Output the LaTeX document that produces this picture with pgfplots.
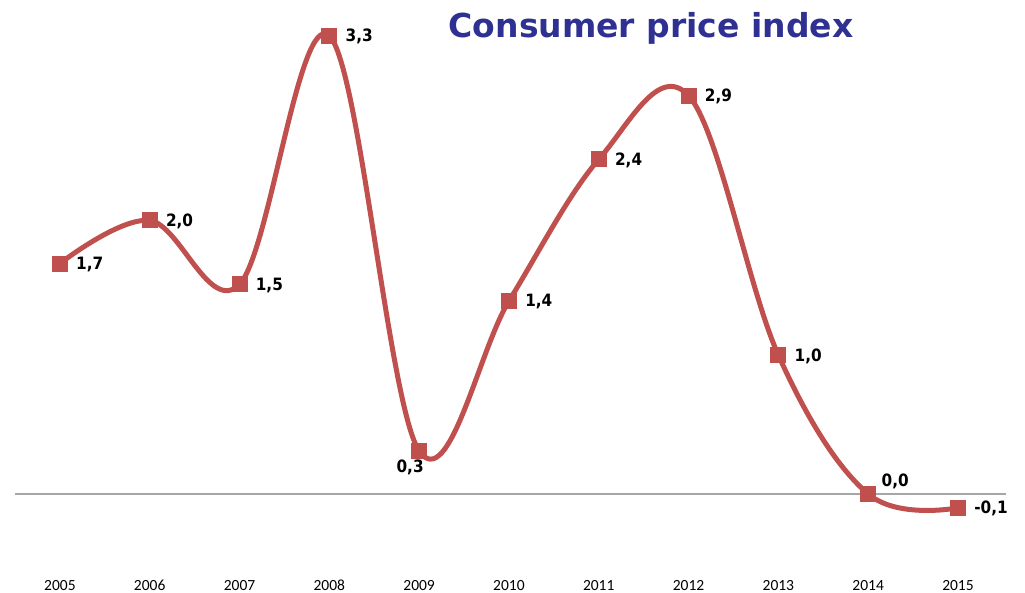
\documentclass[border=0pt]{standalone}
\usepackage{pgfplots}
\pgfplotsset{compat=1.18}
\usepackage{pgfplotstable}
\usepackage{fontspec}
\setmainfont{DejaVu Sans}
\newfontfamily\labfont{DejaVu Sans Condensed}
\newfontfamily\yearfont{Carlito}
\definecolor{cpired}{HTML}{C0504D}
\definecolor{titleblue}{HTML}{2E3192}
\definecolor{zeroline}{HTML}{A6A6A6}

\pgfplotstableread{
x y lab
2005 1.66 {1,7}
2006 1.97 {2,0}
2007 1.51 {1,5}
2008 3.30 {3,3}
2009 0.31 {0,3}
2010 1.39 {1,4}
2011 2.41 {2,4}
2012 2.87 {2,9}
2013 1.00 {1,0}
2014 0.00 {0,0}
2015 -0.10 {-0,1}
}\cpi

\pgfplotstableread{
x y lab
2005 1.66 {1,7}
2006 1.97 {2,0}
2007 1.51 {1,5}
2008 3.30 {3,3}
2010 1.39 {1,4}
2011 2.41 {2,4}
2012 2.87 {2,9}
2013 1.00 {1,0}
2015 -0.10 {-0,1}
}\cpiright

\pgfplotstableread{
x y lab
2009 0.31 {0,3}
}\cpibelow

\pgfplotstableread{
x y lab
2014 0.00 {0,0}
}\cpiabove

\begin{document}
\begin{tikzpicture}[x=1pt,y=1pt]
\path[use as bounding box] (0,0) rectangle (1025,592);
\begin{axis}[
  at={(15pt,21.7pt)}, anchor=south west,
  scale only axis,
  width=991pt, height=548.3pt,
  xmin=2004.5, xmax=2015.535,
  ymin=-0.55, ymax=3.4,
  axis line style={draw=none},
  major tick length=0pt,
  ytick=\empty,
  xtick={2005,2006,2007,2008,2009,2010,2011,2012,2013,2014,2015},
  xticklabels={2005,2006,2007,2008,2009,2010,2011,2012,2013,2014,2015},
  xticklabel style={anchor=base, yshift=-19.7pt, font=\yearfont\fontsize{15.5}{18}\selectfont, text=black},
  clip=false,
  nodes near coords style={font=\labfont\bfseries\fontsize{17}{20}\selectfont, text=black},
]
\draw[zeroline, line width=1.3pt] (axis cs:2004.5,0) -- (axis cs:2015.535,0);
\addplot[cpired, line width=5pt, smooth, tension=0.6,
  mark=square*, mark size=7.5pt, mark options={fill=cpired, draw=cpired, line width=0pt}]
  table[x=x, y=y] {\cpi};
\addplot[draw=none, no marks, point meta=explicit symbolic,
  nodes near coords, nodes near coords style={anchor=west, xshift=12.8pt, yshift=-1pt}]
  table[x=x, y=y, meta=lab] {\cpiright};
\addplot[draw=none, no marks, point meta=explicit symbolic,
  nodes near coords, nodes near coords style={anchor=center, xshift=-9pt, yshift=-16pt}]
  table[x=x, y=y, meta=lab] {\cpibelow};
\addplot[draw=none, no marks, point meta=explicit symbolic,
  nodes near coords, nodes near coords style={anchor=center, xshift=27pt, yshift=13pt}]
  table[x=x, y=y, meta=lab] {\cpiabove};
\end{axis}
\node[anchor=base, text=titleblue, font=\bfseries\fontsize{33}{38}\selectfont, inner sep=0pt] at (651,554) {Consumer price index};
\end{tikzpicture}
\end{document}
